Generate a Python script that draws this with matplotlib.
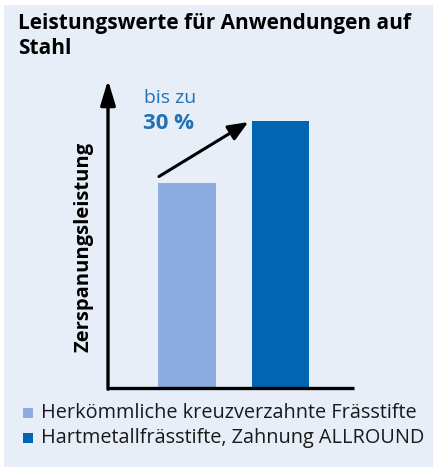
import matplotlib
matplotlib.use("Agg")
import matplotlib.pyplot as plt
from matplotlib.patches import Rectangle

# Data
categories = ["Herkömmliche kreuzverzahnte Frässtifte",
              "Hartmetallfrässtifte, Zahnung ALLROUND"]
values = [100, 130]
colors = ["#8dade0", "#0066b3"]
title = "Leistungswerte für Anwendungen auf\nStahl"
ylabel = "Zerspanungsleistung"
gain_text_1 = "bis zu"
gain_text_2 = "30 %"

W, H = 433, 470
DPI = 100
BG = "#e8eef8"
FONT = "Open Sans"

fig = plt.figure(figsize=(W / DPI, H / DPI), dpi=DPI)
fig.patch.set_facecolor("white")

def fx(px):
    return px / W

def fy(py):
    return 1 - py / H

# light panel behind everything
fig.patches.append(Rectangle((fx(4), fy(467)), fx(433) - fx(4), fy(5) - fy(467),
                             transform=fig.transFigure, facecolor=BG,
                             edgecolor="none", zorder=-5))

# axes box in pixel coordinates
ax_left, ax_right, ax_top, ax_bottom = 108, 354, 80, 388
ax = fig.add_axes([fx(ax_left), fy(ax_bottom), fx(ax_right) - fx(ax_left),
                   fy(ax_top) - fy(ax_bottom)])
ax.set_facecolor("none")
ax.set_zorder(2)

x = [0, 1]
width = 0.62
ax.bar(x, values, width=width, color=colors, zorder=2)
ax.set_xlim(-0.845, 1.786)
ax.set_ylim(0, 150)

for s in ax.spines.values():
    s.set_visible(False)
ax.set_xticks([])
ax.set_yticks([])

# bottom axis line
ax.plot([-0.845, 1.786], [0, 0], color="black", lw=2.4, solid_capstyle="butt",
        clip_on=False, zorder=3)
# vertical axis with arrow head
ax.annotate("", xy=(-0.845, 150), xytext=(-0.845, -0.6),
            arrowprops=dict(arrowstyle="-|>,head_length=1.5,head_width=0.45",
                            color="black", lw=2.4, shrinkA=0, shrinkB=0),
            annotation_clip=False, zorder=3)

# growth arrow from the lower bar to the higher bar
ax.annotate("", xy=(x[1] - width / 2 - 0.035, values[1] - 0.5),
            xytext=(x[0] - width / 2 + 0.01, values[0] + 3),
            arrowprops=dict(arrowstyle="-|>,head_length=1.2,head_width=0.5",
                            color="black", lw=2.2, shrinkA=0, shrinkB=0),
            zorder=4)

fig.text(fx(144), fy(98), gain_text_1, color="#1f72b8", fontsize=14,
         family=FONT, ha="left", va="center")
fig.text(fx(143), fy(124), gain_text_2, color="#1f72b8", fontsize=16,
         family=FONT, weight="bold", ha="left", va="center")

fig.text(fx(83), fy(247), ylabel, rotation=90, fontsize=14.5, family=FONT,
         weight="bold", ha="center", va="center")

fig.text(fx(18), fy(36), title, fontsize=15, family=FONT, weight="bold",
         ha="left", va="center", linespacing=1.2)

# legend
for i, (lab, c) in enumerate(zip(categories, colors)):
    yc = 413 + 25 * i
    fig.patches.append(Rectangle((fx(23), fy(yc + 5)), fx(10), fy(yc - 5) - fy(yc + 5),
                                 transform=fig.transFigure, facecolor=c,
                                 edgecolor="none"))
    fig.text(fx(41), fy(yc), lab, fontsize=14.3, family=FONT, ha="left",
             va="center", color="#1a1a1a")

fig.savefig("out.png", dpi=DPI, facecolor=fig.get_facecolor())
